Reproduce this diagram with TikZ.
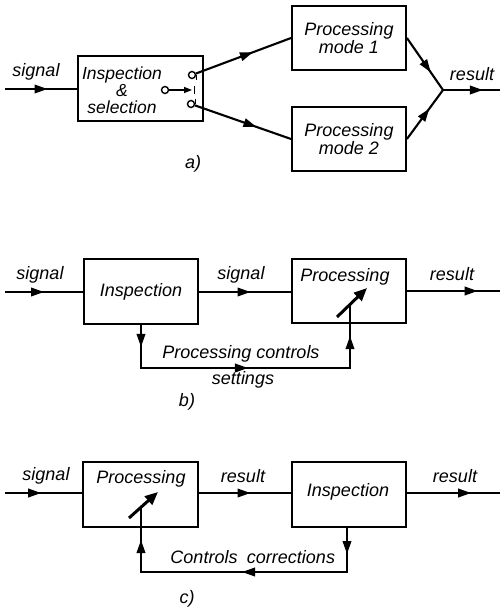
\documentclass[tikz,border=0pt]{standalone}
\usepackage{fontspec}
\setmainfont{Liberation Sans}
\usetikzlibrary{arrows.meta,decorations.markings}
\newcommand\lf{\fontsize{18}{18}\selectfont\itshape}
\tikzset{
  box/.style={draw,line width=1.9pt,minimum width=114pt,minimum height=64pt,inner sep=0pt,font=\lf,align=center},
  lbl/.style={font=\lf,inner sep=0pt,align=center},
  conn/.style={line width=2.1pt},
  am/.style={postaction={decorate},decoration={markings,mark=at position #1 with {\arrow{Triangle[length=13pt,width=8.5pt]}}}},
  am3/.style n args={3}{postaction={decorate},decoration={markings,
      mark=at position #1 with {\arrow{Triangle[length=13pt,width=8.5pt]}},
      mark=at position #2 with {\arrow{Triangle[length=13pt,width=8.5pt]}},
      mark=at position #3 with {\arrow{Triangle[length=13pt,width=8.5pt]}}}},
  adj/.style={line width=3pt,-{Triangle[length=13pt,width=11pt]}},
  term/.style={circle,draw,line width=1.4pt,minimum size=7pt,inner sep=0pt},
}
\begin{document}
\begin{tikzpicture}[x=1pt,y=-1pt]
\useasboundingbox (0,0) rectangle (500,613);
% ---------------- a) ----------------
\coordinate (ain) at (5,89);
\node[box,minimum width=125pt,minimum height=65pt] (isel) at (140.5,88.5) {};
\node[lbl,font={\fontsize{17.5}{17}\selectfont\itshape}] (tsel) at (122,90) {Inspection\\\&\\selection};
\node[lbl] (sigA) at (36,72) {signal};
\draw[conn,am=0.59] (ain) -- (ain -| isel.west);
\node[term] (t0) at (165,90) {};
\node[term] (t1) at (192,75) {};
\node[term] (t2) at (191,104) {};
\coordinate (swtip) at (192,90);
\draw[line width=1.4pt,-{Triangle[length=8pt,width=6pt]}] (t0) -- (swtip);
\draw[line width=1.4pt] (194.5,86) -- (194.5,94);
\draw[line width=1.3pt] (t1.east) -- ++(0,5);
\draw[line width=1.3pt] (t2.east) -- ++(0,-5);
\node[box] (m1) at (349,38) {Processing\\mode 1};
\node[box] (m2) at (349,139) {Processing\\mode 2};
\draw[conn,am=0.6] (t1) -- (m1.west);
\draw[conn,am=0.64] (t2) -- (m2.west);
\coordinate (j) at (443,90);
\coordinate (aout) at (500,90);
\draw[conn,am=0.66] (m1.east) -- (j);
\draw[conn,am=0.62] (m2.east) -- (j);
\draw[conn,am=0.7] (j) -- (aout);
\node[lbl] (resA) at (472,74) {result};
\node[lbl] (labA) at (193,164) {a)};
% ---------------- b) ----------------
\coordinate (bin) at (5,292);
\node[box,minimum height=65pt] (inspB) at (141,291.5) {Inspection};
\node[box] (procB) at (349,291) {};
\node[lbl] (tprocB) at (345,277) {Processing};
\node[lbl] (sigB) at (40,275) {signal};
\node[lbl] (sigB2) at (241,275) {signal};
\node[lbl] (resB) at (452,274) {result};
\coordinate (bout) at (500,291);
\draw[conn,am=0.5] (bin) -- (inspB.west |- bin);
\draw[conn,am=0.56] (inspB.east |- bin) -- (procB.west |- bin);
\draw[conn,am=0.76] (procB.east |- bout) -- (bout);
\coordinate (dB1) at (337,317);
\coordinate (dB2) at (367,288);
\draw[adj] (dB1) -- (dB2);
\coordinate (bB) at (350,368);
\coordinate (fbB) at (350,304);
\draw[conn,am3={22pt}{150pt}{284pt}] (inspB.south) |- (bB) -- (fbB);
\node[lbl] (pcB) at (241,354) {Processing controls};
\node[lbl] (setB) at (243,380) {settings};
\node[lbl] (labB) at (187,402) {b)};
% ---------------- c) ----------------
\coordinate (cin) at (5,493);
\node[box,minimum width=115pt,minimum height=65pt] (procC) at (140.5,494.5) {};
\node[lbl] (tprocC) at (141,479) {Processing};
\node[box,minimum height=65pt] (inspC) at (349,494.5) {};
\node[lbl] (tinspC) at (348,492) {Inspection};
\node[lbl] (sigC) at (46,476) {signal};
\node[lbl] (resC) at (243,476) {result};
\node[lbl] (resC2) at (455,476) {result};
\coordinate (cout) at (500,493);
\draw[conn,am=0.47] (cin) -- (procC.west |- cin);
\draw[conn,am=0.56] (procC.east |- cin) -- (inspC.west |- cin);
\draw[conn,am=0.69] (inspC.east |- cout) -- (cout);
\coordinate (dC1) at (129,518);
\coordinate (dC2) at (158,492);
\draw[adj] (dC1) -- (dC2);
\coordinate (sC) at (347,527);
\coordinate (bC) at (141,572);
\coordinate (fbC) at (141,507);
\draw[conn,am3={27pt}{150pt}{283pt}] (sC) |- (bC) -- (fbC);
\node[lbl] (ctlC) at (204,557) {Controls};
\node[lbl] (corC) at (291,557) {corrections};
\node[lbl] (labC) at (187,599) {c)};
\end{tikzpicture}
\end{document}
